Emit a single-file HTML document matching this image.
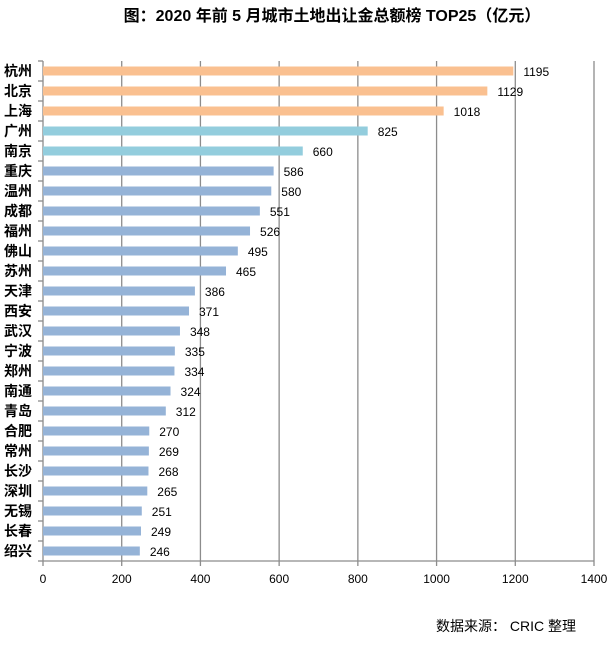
<!DOCTYPE html>
<html><head><meta charset="utf-8"><style>
body{margin:0;background:#fff;width:611px;height:643px;overflow:hidden}
svg{font-family:"Liberation Sans","Noto Sans CJK SC",sans-serif}
</style></head><body>
<svg width="611" height="643">
<text x="332" y="21" text-anchor="middle" font-size="16" font-weight="bold">图：2020 年前 5 月城市土地出让金总额榜 TOP25（亿元）</text>
<g id="grid"></g><g id="bars"></g><g id="axes"></g>
<text x="436" y="631" font-size="14">数据来源： CRIC 整理</text>
</svg>
<script>
const cities=["杭州","北京","上海","广州","南京","重庆","温州","成都","福州","佛山","苏州","天津","西安","武汉","宁波","郑州","南通","青岛","合肥","常州","长沙","深圳","无锡","长春","绍兴"];
const values=[1195,1129,1018,825,660,586,580,551,526,495,465,386,371,348,335,334,324,312,270,269,268,265,251,249,246];
const ticks=[0,200,400,600,800,1000,1200,1400];
const X0=43,X1=594,MAX=1400,TOP=61,STEP=20;
const x=v=>X0+(X1-X0)*v/MAX;
const ns="http://www.w3.org/2000/svg";
function mk(t,a,p){const e=document.createElementNS(ns,t);for(const k in a)e.setAttribute(k,a[k]);p.appendChild(e);return e;}
const g=document.getElementById('grid'),b=document.getElementById('bars'),ax=document.getElementById('axes');
const bottom=TOP+STEP*cities.length;
ticks.forEach(t=>{
 const l=mk('line',{x1:x(t),x2:x(t),y1:TOP,y2:bottom+5,stroke:'#8c8c8c','stroke-width':1.3},g);
 
 
 const tx=mk('text',{x:x(t),y:bottom+22,'text-anchor':'middle','font-size':12},ax);tx.textContent=t;
 
 
});
const al=mk('line',{x1:X0,x2:X1,y1:bottom,y2:bottom,stroke:'#8c8c8c','stroke-width':1.3},ax);


for(let i=0;i<=cities.length;i++){mk('line',{x1:X0-5,x2:X0,y1:TOP+STEP*i,y2:TOP+STEP*i,stroke:'#8c8c8c','stroke-width':1.3},ax);}
cities.forEach((c,i)=>{
 const cy=TOP+STEP*i+STEP/2;
 const col=i<3?'#fac090':(i<5?'#93cddd':'#95b3d7');
 const r=mk('rect',{x:X0,y:cy-4.5,width:x(values[i])-X0,height:9,fill:col},b);
 
 
 const lt=mk('text',{x:x(values[i])+10,y:cy+5,'font-size':12},b);lt.textContent=values[i];
 
 
 const ct=mk('text',{x:4,y:cy+5,'font-size':14,'font-weight':'bold'},ax);ct.textContent=c;
 
 
});
</script>
</body></html>
